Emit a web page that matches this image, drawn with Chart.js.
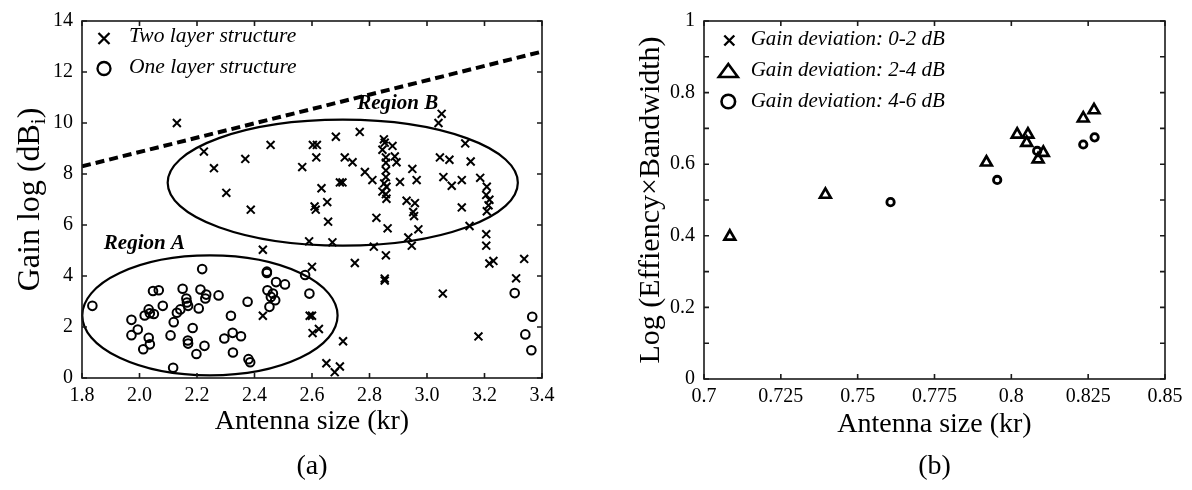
<!DOCTYPE html>
<html><head><meta charset="utf-8">
<script src="https://cdn.jsdelivr.net/npm/chart.js@4.4.1/dist/chart.umd.min.js"></script>
<style>
html,body{margin:0;padding:0;background:#fff;}
#wrap{position:relative;width:1192px;height:490px;overflow:hidden;background:#fff;}
canvas{position:absolute;top:0;}
#ca{left:0;} #cb{left:600px;}
</style></head><body>
<div id="wrap"><canvas id="ca" width="600" height="490"></canvas><canvas id="cb" width="592" height="490"></canvas></div>
<script>
// ---------- Panel (a) data ----------
const twoLayerKr = [2.13,2.224,2.259,2.302,2.368,2.387,3.051,3.04,2.456,2.603,2.617,2.683,2.766,2.85,2.853,2.88,2.845,2.615,2.566,2.714,2.741,2.857,2.888,2.894,2.857,3.045,3.078,3.133,3.152,2.949,2.784,2.81,2.857,2.857,2.851,2.859,2.906,2.964,3.057,3.086,3.121,3.185,3.208,3.206,3.217,3.214,3.208,2.633,2.697,2.706,2.609,2.613,2.653,2.656,2.845,2.857,2.859,2.929,2.958,2.952,2.955,3.121,2.824,2.863,2.97,3.148,2.935,2.947,2.59,2.671,2.429,2.815,2.857,2.749,2.6,2.853,3.206,3.206,3.217,3.231,3.338,3.31,3.055,3.179,2.592,2.6,2.602,2.624,2.708,2.65,2.679,2.697,2.429,2.853];
const twoLayerGain = [10.0,8.88,8.23,7.26,8.59,6.6,10.36,10.0,9.14,9.14,9.14,9.46,9.65,9.36,9.23,9.1,8.95,8.65,8.27,8.65,8.46,8.65,8.69,8.46,8.44,8.65,8.56,9.2,8.49,8.2,8.08,7.76,8.14,7.88,7.63,7.5,7.69,7.76,7.88,7.54,7.76,7.85,7.5,7.18,6.99,6.77,6.54,7.44,7.67,7.67,6.73,6.6,6.9,6.13,7.31,7.21,7.03,6.95,6.86,6.51,6.35,6.69,6.28,5.87,5.83,5.96,5.51,5.19,5.36,5.32,5.03,5.15,4.81,4.51,4.36,3.82,5.64,5.19,4.49,4.59,4.67,3.91,3.31,1.63,2.44,2.44,1.76,1.92,1.44,0.58,0.23,0.45,2.44,3.9];
const oneLayerKr = [1.836,1.972,1.994,1.972,2.013,2.032,2.036,2.018,2.032,2.036,2.05,2.047,2.067,2.081,2.108,2.119,2.117,2.13,2.142,2.15,2.163,2.165,2.169,2.168,2.169,2.185,2.198,2.206,2.212,2.218,2.226,2.229,2.232,2.275,2.295,2.318,2.324,2.325,2.353,2.376,2.379,2.385,2.443,2.445,2.452,2.457,2.464,2.472,2.475,2.506,2.576,2.591,2.443,3.305,3.366,3.342,3.363];
const oneLayerGain = [2.83,2.28,1.90,1.68,1.13,1.58,1.32,2.45,2.69,2.54,2.51,3.41,3.44,2.83,1.67,2.19,0.40,2.56,2.69,3.5,3.12,2.96,2.83,1.47,1.35,1.96,0.94,2.73,3.47,4.27,1.26,3.12,3.27,3.24,1.55,2.44,1.77,1.0,1.64,2.99,0.74,0.62,4.12,3.44,2.79,3.18,3.31,3.05,3.76,3.67,4.04,3.31,4.17,3.33,2.40,1.71,1.09];
const boundKr = [1.8, 3.4];
const boundGain = [8.3, 12.8];
const krTicksA = [1.8, 3.4, 0.2];      // min, max, step
const gainTicksA = [0, 14, 2];

// ---------- Panel (b) data ----------
const dev02Kr = [];
const dev02Val = [];
const dev24Kr = [0.7084,0.7395,0.7919,0.8019,0.8054,0.805,0.8104,0.8087,0.8234,0.8269];
const dev24Val = [0.398,0.515,0.605,0.683,0.683,0.66,0.632,0.614,0.728,0.751];
const dev46Kr = [0.7607,0.7954,0.8084,0.8234,0.8271];
const dev46Val = [0.494,0.556,0.637,0.655,0.675];
const krTicksB = [0.7, 0.85, 0.025];
const valTicksB = [0, 1, 0.1];

// ---------- annotations (a) ----------
const regionA = {kr:2.245, gain:2.455, dkr:0.444, dgain:2.35, label:'Region A', lx:1.876, ly:5.06};
const regionB = {kr:2.707, gain:7.66, dkr:0.609, dgain:2.47, label:'Region B', lx:2.757, ly:10.53};

const SERIF = '"Liberation Serif","Times New Roman",serif';
Chart.defaults.font.family = SERIF;
Chart.defaults.color = '#000';

const pts = (xs, ys) => xs.map((v, i) => ({x: v, y: ys[i]}));

function drawX(ctx, x, y, h, lw){ ctx.save(); ctx.lineWidth=lw; ctx.beginPath(); ctx.moveTo(x-h,y-h); ctx.lineTo(x+h,y+h); ctx.moveTo(x-h,y+h); ctx.lineTo(x+h,y-h); ctx.stroke(); ctx.restore(); }
function drawO(ctx, x, y, r, lw){ ctx.save(); ctx.lineWidth=lw; ctx.beginPath(); ctx.arc(x,y,r,0,Math.PI*2); ctx.stroke(); ctx.restore(); }
function drawT(ctx, x, y, hw, up, down, lw){ ctx.save(); ctx.lineWidth=lw; ctx.lineJoin='miter'; ctx.beginPath(); ctx.moveTo(x,y-up); ctx.lineTo(x+hw,y+down); ctx.lineTo(x-hw,y+down); ctx.closePath(); ctx.stroke(); ctx.restore(); }

function frame(chart, tl){
  const {ctx, chartArea:{left,right,top,bottom}, scales:{x,y}} = chart;
  ctx.save();
  ctx.strokeStyle = '#1a1a1a'; ctx.lineWidth = 1.6;
  ctx.strokeRect(left, top, right-left, bottom-top);
  ctx.beginPath();
  x.ticks.forEach(t => { const p = x.getPixelForValue(t.value); ctx.moveTo(p,bottom); ctx.lineTo(p,bottom-tl); ctx.moveTo(p,top); ctx.lineTo(p,top+tl); });
  y.ticks.forEach(t => { const p = y.getPixelForValue(t.value); ctx.moveTo(left,p); ctx.lineTo(left+tl,p); ctx.moveTo(right,p); ctx.lineTo(right-tl,p); });
  ctx.stroke();
  ctx.restore();
}

const panelA = {
  id: 'panelA',
  beforeDatasetsDraw(chart){
    const {ctx, scales:{x,y}} = chart;
    ctx.save();
    ctx.strokeStyle = '#000'; ctx.lineWidth = 2.2;
    [regionA, regionB].forEach(e => {
      const cx = x.getPixelForValue(e.kr), cy = y.getPixelForValue(e.gain);
      const rx = Math.abs(x.getPixelForValue(e.kr+e.dkr)-cx), ry = Math.abs(y.getPixelForValue(e.gain+e.dgain)-cy);
      ctx.beginPath(); ctx.ellipse(cx, cy, rx, ry, 0, 0, Math.PI*2); ctx.stroke();
      ctx.font = `italic bold 21px ${SERIF}`; ctx.fillStyle = '#000'; ctx.textAlign='left'; ctx.textBaseline='alphabetic';
      ctx.fillText(e.label, x.getPixelForValue(e.lx), y.getPixelForValue(e.ly));
    });
    ctx.restore();
  },
  afterDraw(chart){
    const {ctx, chartArea:{left,right,top,bottom}} = chart;
    frame(chart, 5);
    ctx.save();
    ctx.strokeStyle = '#000'; ctx.fillStyle = '#000';
    // legend
    drawX(ctx, 104, 38.5, 5.5, 2.3);
    drawO(ctx, 104, 68.5, 6.5, 2.3);
    ctx.font = `italic 21.5px ${SERIF}`; ctx.textAlign='left'; ctx.textBaseline='alphabetic';
    ctx.fillText('Two layer structure', 129, 42);
    ctx.fillText('One layer structure', 129, 73);
    // y title with subscript
    ctx.translate(28, (top+bottom)/2); ctx.rotate(-Math.PI/2);
    const big = `32px ${SERIF}`, small = `21px ${SERIF}`;
    ctx.font = big;
    const p1 = 'Gain log (dB', p3 = ')';
    const w1 = ctx.measureText(p1).width, w3 = ctx.measureText(p3).width;
    ctx.font = small; const w2 = ctx.measureText('i').width;
    let sx = -(w1+w2+w3)/2;
    ctx.font = big; ctx.fillText(p1, sx, 10.8);
    ctx.font = small; ctx.fillText('i', sx+w1, 17);
    ctx.font = big; ctx.fillText(p3, sx+w1+w2, 10.8);
    ctx.setTransform(1,0,0,1,0,0);
    ctx.font = `28px ${SERIF}`; ctx.textAlign='center'; ctx.textBaseline='middle';
    ctx.fillText('(a)', (left+right)/2, 467);
    ctx.restore();
  }
};

const panelB = {
  id: 'panelB',
  afterDraw(chart){
    const {ctx, chartArea:{left,right}} = chart;
    frame(chart, 5);
    ctx.save();
    ctx.strokeStyle = '#000'; ctx.fillStyle = '#000';
    drawX(ctx, 129.3, 40.5, 5, 2.4);
    drawT(ctx, 128.3, 71, 9.5, 7, 6, 2.6);
    drawO(ctx, 128.3, 101.5, 6.8, 2.6);
    ctx.font = `italic 21px ${SERIF}`; ctx.textAlign='left'; ctx.textBaseline='alphabetic';
    ctx.fillText('Gain deviation: 0-2 dB', 150.7, 45);
    ctx.fillText('Gain deviation: 2-4 dB', 150.7, 76);
    ctx.fillText('Gain deviation: 4-6 dB', 150.7, 107);
    ctx.font = `28px ${SERIF}`; ctx.textAlign='center'; ctx.textBaseline='middle';
    ctx.fillText('(b)', (left+right)/2, 467);
    ctx.restore();
  }
};

const noGrid = {display:false, drawTicks:false};
const noBorder = {display:false};

new Chart(document.getElementById('ca'), {
  type: 'scatter',
  data: { datasets: [
    { label:'Two layer structure', data: pts(twoLayerKr, twoLayerGain), pointStyle:'crossRot', pointRadius:5.6, pointHoverRadius:5.6, borderColor:'#000', backgroundColor:'rgba(0,0,0,0)', borderWidth:2 },
    { label:'One layer structure', data: pts(oneLayerKr, oneLayerGain), pointStyle:'circle', pointRadius:4.3, pointHoverRadius:4.3, borderColor:'#000', backgroundColor:'rgba(0,0,0,0)', borderWidth:2 },
    { label:'bound', data: pts(boundKr, boundGain), showLine:true, borderDash:[9,5], borderWidth:4, borderColor:'#000', pointRadius:0, fill:false }
  ]},
  options: {
    responsive:false, animation:false, devicePixelRatio:1, events:[],
    layout:{ padding:{left:0, right:58, top:14, bottom:0}, autoPadding:false },
    plugins:{ legend:{display:false}, tooltip:{enabled:false} },
    scales:{
      x:{ type:'linear', min:krTicksA[0], max:krTicksA[1], grid:noGrid, border:noBorder,
          ticks:{ stepSize:krTicksA[2], padding:6, font:{size:20}, color:'#000', maxRotation:0, autoSkip:false, callback:v=>Number(v).toFixed(1) },
          title:{ display:true, text:'Antenna size (kr)', font:{size:28}, color:'#000', padding:{top:0, bottom:52} },
          afterFit: s => { s.height = 112; } },
      y:{ type:'linear', min:gainTicksA[0], max:gainTicksA[1], grid:noGrid, border:noBorder,
          ticks:{ stepSize:gainTicksA[2], padding:9, font:{size:20}, color:'#000', autoSkip:false, callback:v=>String(Math.round(v)) },
          afterFit: s => { s.width = 82; } }
    }
  },
  plugins:[panelA]
});

new Chart(document.getElementById('cb'), {
  type: 'scatter',
  data: { datasets: [
    { label:'Gain deviation: 0-2 dB', data: pts(dev02Kr, dev02Val), pointStyle:'crossRot', pointRadius:5.6, borderColor:'#000', backgroundColor:'rgba(0,0,0,0)', borderWidth:2.4 },
    { label:'Gain deviation: 2-4 dB', data: pts(dev24Kr, dev24Val), pointStyle:'triangle', pointRadius:6.2, pointHoverRadius:6.2, borderColor:'#000', backgroundColor:'rgba(0,0,0,0)', borderWidth:2.7 },
    { label:'Gain deviation: 4-6 dB', data: pts(dev46Kr, dev46Val), pointStyle:'circle', pointRadius:3.7, pointHoverRadius:3.7, borderColor:'#000', backgroundColor:'rgba(0,0,0,0)', borderWidth:2.8 }
  ]},
  options: {
    responsive:false, animation:false, devicePixelRatio:1, events:[],
    layout:{ padding:{left:0, right:27, top:15, bottom:0}, autoPadding:false },
    plugins:{ legend:{display:false}, tooltip:{enabled:false} },
    scales:{
      x:{ type:'linear', min:krTicksB[0], max:krTicksB[1], grid:noGrid, border:noBorder,
          ticks:{ stepSize:krTicksB[2], padding:6, font:{size:20}, color:'#000', maxRotation:0, autoSkip:false, callback:v=>String(+Number(v).toFixed(3)) },
          title:{ display:true, text:'Antenna size (kr)', font:{size:28}, color:'#000', padding:{top:0, bottom:49} },
          afterFit: s => { s.height = 111; } },
      y:{ type:'linear', min:valTicksB[0], max:valTicksB[1], grid:noGrid, border:noBorder,
          ticks:{ stepSize:valTicksB[2], padding:9, font:{size:20}, color:'#000', autoSkip:false, callback:v=>(Math.round(v*10)%2===0 ? String(+Number(v).toFixed(1)) : '') },
          title:{ display:true, text:'Log (Effiency\u00d7Bandwidth)', font:{size:30}, color:'#000', padding:{top:33, bottom:0} },
          afterFit: s => { s.width = 104; } }
    }
  },
  plugins:[panelB]
});
</script>
</body></html>
